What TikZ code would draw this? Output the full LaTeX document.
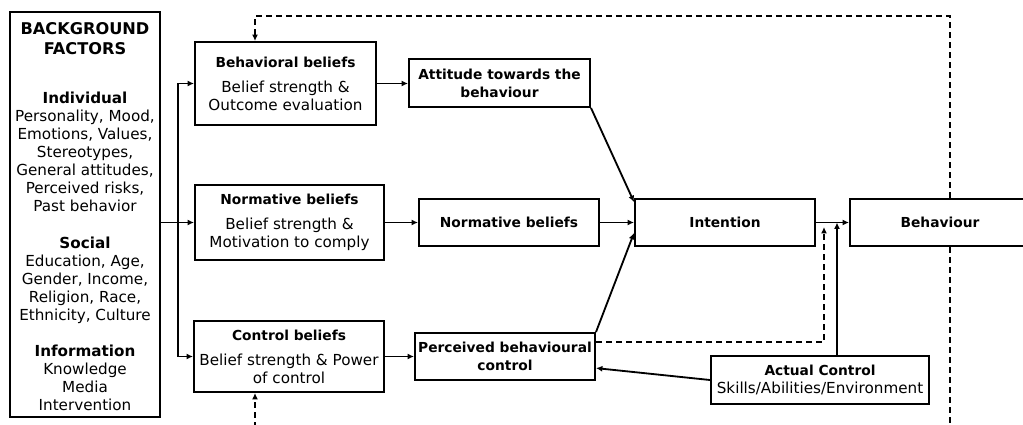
\documentclass[tikz,border=0pt]{standalone}
\usepackage{fontspec}
\setmainfont{DejaVu Sans}
\usetikzlibrary{arrows.meta, positioning, calc}

\begin{document}
\begin{tikzpicture}[
    x=0.025cm, y=-0.025cm,
    box/.style={draw, rectangle, line width=1.4pt, fill=white, inner sep=1pt, align=center, font=\fontsize{9.8}{12.8}\selectfont\bfseries},
    beliefs/.style={box, font=\fontsize{10.8}{12.8}\selectfont},
    arr/.style={line width=1.3pt, -{Latex[length=1.6mm, width=1.5mm]}},
    dash arr/.style={arr, dash pattern=on 1.5mm off 1mm}
]
\useasboundingbox (0,0) rectangle (1023,425);
\clip (0,0) rectangle (1023,425);

% Nodes
\node[box, font=\fontsize{10.8}{12.8}\selectfont, minimum width=3.75cm, minimum height=10.125cm] (bgf) at (85,214.5) {%
  \rule{0pt}{12pt}{\fontsize{11.5}{14.2}\selectfont\bfseries BACKGROUND}\\[1.4pt]
  {\fontsize{11.5}{14.2}\selectfont\bfseries FACTORS}\\[22pt]
  \textbf{Individual}\\Personality, Mood,\\Emotions, Values,\\Stereotypes,\\General attitudes,\\Perceived risks,\\Past behavior\\[13.5pt]
  \textbf{Social}\\Education, Age,\\Gender, Income,\\Religion, Race,\\Ethnicity, Culture\\[12.8pt]
  \textbf{Information}\\Knowledge\\Media\\Intervention};

\node[beliefs, minimum width=4.525cm, minimum height=2.075cm] (bb) at (285.5,83.5) {{\fontsize{9.8}{12.8}\selectfont\bfseries Behavioral beliefs}\\[5pt]Belief strength \&\\Outcome evaluation};
\node[beliefs, minimum width=4.725cm, minimum height=1.875cm] (nb) at (289.5,222.5) {{\fontsize{9.8}{12.8}\selectfont\bfseries Normative beliefs}\\[5pt]Belief strength \&\\Motivation to comply};
\node[beliefs, minimum width=4.75cm, minimum height=1.775cm] (cb) at (289,356.5) {{\fontsize{9.8}{12.8}\selectfont\bfseries Control beliefs}\\[5pt]Belief strength \& Power\\of control};

\node[box, minimum width=4.525cm, minimum height=1.2cm] (att) at (499.5,83) {Attitude towards the\\behaviour};
\node[box, minimum width=4.5cm, minimum height=1.175cm] (sn) at (509,222.5) {Normative beliefs};
\node[box, minimum width=4.5cm, minimum height=1.175cm] (pbc) at (505,356.5) {Perceived behavioural\\control};
\node[box, minimum width=4.5cm, minimum height=1.175cm] (int) at (725,222.5) {Intention};
\node[box, minimum width=4.5cm, minimum height=1.175cm] (beh) at (940,222.5) {Behaviour};
\node[box, minimum width=5.45cm, minimum height=1.2cm] (ac) at (820,380) {Actual Control\\{\fontsize{10.8}{12.8}\selectfont\mdseries Skills/Abilities/Environment}};

% Helper points
\coordinate (split) at (178,222.5);
\coordinate (fbR) at (824,227);
\coordinate (acup) at (837,222.5);
\coordinate (loopT) at (950,16);
\coordinate (loopR) at (950,445);
\coordinate (loopL) at (255,445);

% Background factors to beliefs
\draw[arr] (bgf.east |- nb.west) -- (nb.west);
\draw[line width=1.3pt] (split |- bb.west) -- (split |- cb.west);
\draw[arr] (split |- bb.west) -- (bb.west);
\draw[arr] (split |- cb.west) -- (cb.west);

% Beliefs to determinants
\draw[arr] (bb.east) -- (bb.east -| att.west);
\draw[arr] (nb.east) -- (sn.west);
\draw[arr] (cb.east) -- (pbc.west);

% Determinants to intention
\draw[arr] (att.south east) -- ([yshift=-0.1cm]int.north west);
\draw[arr] (sn.east) -- (int.west);
\draw[arr] (pbc.north east) -- ([yshift=0.35cm]int.south west);
\draw[arr] (int.east) -- (beh.west);

% Control paths
\draw[dash arr] ([yshift=-0.25cm]pbc.north east) -| (fbR);
\draw[arr] (ac.north -| acup) -- (acup);
\draw[arr] (ac.west) -- ([yshift=-0.29cm]pbc.east);

% Feedback
\draw[dash arr] (beh.north -| loopT) -- (loopT) -| (bb.north -| loopL);
\draw[dash arr] (beh.south -| loopT) -- (loopR) -- (loopL) -- (cb.south -| loopL);

\end{tikzpicture}
\end{document}
